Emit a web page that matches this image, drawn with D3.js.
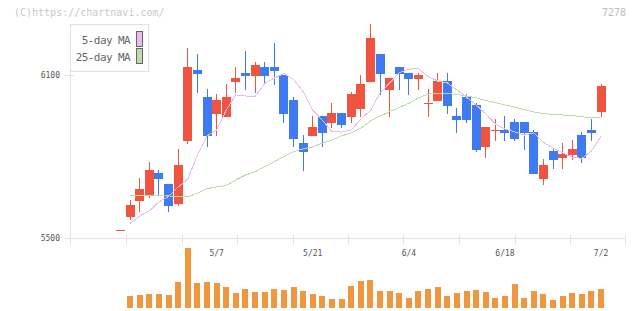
<!DOCTYPE html>
<html>
<head>
<meta charset="utf-8">
<script src="https://cdn.jsdelivr.net/npm/d3@7"></script>
<style>
  html, body { margin: 0; padding: 0; background: #fff; }
  svg { display: block; }
  text { font-family: "DejaVu Sans Mono", "Liberation Mono", monospace; }
</style>
</head>
<body>
<div id="chart"></div>
<script>
"use strict";

// trading days shown (4/18 - 7/2)
var dates = ["4/18","4/19","4/22","4/23","4/24","4/25","4/26","4/30","5/1","5/2",
  "5/7","5/8","5/9","5/10","5/13","5/14","5/15","5/16","5/17","5/20",
  "5/21","5/22","5/23","5/24","5/27","5/28","5/29","5/30","5/31","6/3",
  "6/4","6/5","6/6","6/7","6/10","6/11","6/12","6/13","6/14","6/17",
  "6/18","6/19","6/20","6/21","6/24","6/25","6/26","6/27","6/28","7/1","7/2"];

var open = [5530,5580,5638,5656,5740,5700,5627,5859,6120,6020,
  5959,5948,6076,6108,6099,6131,6131,6101,6009,5851,
  5877,5950,5924,5961,5947,5976,6076,6178,6046,6131,
  6108,6086,5997,6005,6079,5950,6020,5991,5837,5898,
  5900,5928,5928,5891,5719,5821,5797,5808,5880,5900,5966];
var high = [5530,5641,5722,5781,5751,5700,5829,6200,6178,6050,
  6031,6068,6131,6189,6149,6149,6219,6101,6019,5880,
  5950,5950,5998,5961,6039,6101,6289,6178,6090,6131,
  6108,6108,6050,6108,6108,5980,6031,5998,5910,5939,
  5950,5939,5928,5898,5792,5830,5851,5862,5891,5939,6068];
var low = [5530,5567,5598,5649,5656,5598,5620,5848,6036,5837,
  5878,5948,6036,6047,6036,6064,6065,5926,5837,5749,
  5877,5837,5906,5906,5924,5947,6076,6027,5947,6046,
  6027,6046,5947,6005,5959,5889,5926,5819,5797,5859,
  5859,5859,5826,5738,5697,5756,5756,5789,5778,5859,5947];
var close = [5530,5623,5681,5751,5719,5620,5770,6131,6106,5878,
  6009,6020,6090,6099,6138,6099,6117,5958,5866,5818,
  5910,5888,5961,5917,6031,6068,6237,6106,6090,6106,
  6086,6101,5997,6079,5988,5935,5935,5826,5910,5898,
  5889,5867,5889,5738,5770,5789,5810,5829,5797,5889,6061];
var volume = [0,23400,25400,27400,27400,25400,51400,119400,49400,51400,
  49400,41400,29400,37400,31400,31400,37400,35400,41400,33400,
  27400,23400,17400,17400,43400,53400,55400,33400,33400,29400,
  19400,33400,37400,41400,23400,29400,33400,35400,31400,19400,
  23400,47400,19400,33400,27400,15400,23400,29400,27400,33400,37400];

var ma5 = [null,5555,5582,5601,5634,5654,5689,5718,5807,5877,
  5899,5972,6028,6024,6022,6070,6090,6107,6085,6040,
  5972,5935,5893,5891,5899,5939,5970,6035,6072,6110,
  6123,6124,6096,6079,6072,6046,6020,5991,5958,5921,
  5902,5892,5880,5888,5853,5832,5814,5799,5794,5821,5876];
var ma25 = [null,5658,5658,5658,5658,5656,5654,5653,5666,5683,
  5689,5694,5715,5733,5745,5764,5782,5801,5819,5829,
  5837,5850,5862,5877,5888,5905,5932,5950,5966,5982,
  5997,6017,6031,6034,6034,6029,6024,6017,6007,6000,
  5991,5983,5974,5965,5959,5956,5954,5952,5947,5945,5945];

var priceTicks = [5500, 6100];
var dateLabels = ["5/7", "5/21", "6/4", "6/18", "7/2"];
var gridTicks = [0.6, 6.35, 12.1, 17.9, 23.7, 29.4, 35.2, 41, 46.8, 52.5];

var legendItems = [
  {name: "5-day MA", color: "#ebbbef"},
  {name: "25-day MA", color: "#bcdcae"}
];

var width = 640, height = 311;
var upColor = "#f05340", downColor = "#3f7bf0", volColor = "#f0963f";
var axisColor = "#e2e2e2";

var svg = d3.select("#chart").append("svg")
    .attr("width", width)
    .attr("height", height);

var x = d3.scaleBand()
    .domain(d3.range(dates.length))
    .range([116, 605.6])
    .paddingInner(0.06);
var bw = x.bandwidth();
function cx(i) { return x(i) + bw / 2; }

// linear index scale for grid ticks
var xi = d3.scaleLinear()
    .domain([0, dates.length - 1])
    .range([cx(0), cx(dates.length - 1)]);

var y = d3.scaleLinear().domain([5500, 6289]).range([238.3, 24]);
var yv = d3.scaleLinear().domain([0, d3.max(volume)]).range([307.7, 248]);

// header
svg.append("text")
    .attr("x", 14).attr("y", 16)
    .attr("font-size", 10)
    .attr("fill", "#c8c8c8")
    .text("(C)https://chartnavi.com/");
svg.append("text")
    .attr("x", 626).attr("y", 16)
    .attr("text-anchor", "end")
    .attr("font-size", 10)
    .attr("fill", "#bdbdbd")
    .text("7278");

// axes
var axes = svg.append("g").attr("stroke", axisColor).attr("shape-rendering", "crispEdges");
axes.append("line").attr("x1", 70.5).attr("x2", 70.5).attr("y1", 24).attr("y2", 243.5);
axes.append("line").attr("x1", 70).attr("x2", 626).attr("y1", 238.5).attr("y2", 238.5);
axes.selectAll(".yt").data(priceTicks).enter().append("line")
    .attr("x1", 65).attr("x2", 74)
    .attr("y1", function(d) { return Math.round(y(d)) + 0.5; })
    .attr("y2", function(d) { return Math.round(y(d)) + 0.5; });
axes.selectAll(".xt").data(gridTicks).enter().append("line")
    .attr("x1", function(d) { return Math.round(xi(d)) + 0.5; })
    .attr("x2", function(d) { return Math.round(xi(d)) + 0.5; })
    .attr("y1", 234.5).attr("y2", 243.5);

svg.selectAll(".ylab").data(priceTicks).enter().append("text")
    .attr("x", 60)
    .attr("y", function(d) { return y(d) + 3; })
    .attr("text-anchor", "end")
    .attr("font-size", 8)
    .attr("fill", "#555")
    .text(function(d) { return d; });

svg.selectAll(".xlab").data(dateLabels).enter().append("text")
    .attr("x", function(d) { return cx(dates.indexOf(d)); })
    .attr("y", 255.5)
    .attr("text-anchor", "middle")
    .attr("font-size", 8)
    .attr("fill", "#555")
    .text(function(d) { return d; });

// volume
svg.append("g").attr("shape-rendering", "crispEdges")
  .selectAll("rect").data(volume).enter().append("rect")
    .attr("x", function(d, i) { return Math.round(cx(i) - 3); })
    .attr("width", 6)
    .attr("y", function(d) { return yv(d); })
    .attr("height", function(d) { return yv(0) - yv(d); })
    .attr("fill", volColor);

// candles
var candles = svg.append("g").attr("shape-rendering", "crispEdges")
  .selectAll("g").data(dates).enter().append("g")
    .attr("fill", function(d, i) { return close[i] >= open[i] ? upColor : downColor; });

candles.append("rect")
    .attr("x", function(d, i) { return Math.floor(cx(i)); })
    .attr("width", 1)
    .attr("y", function(d, i) { return y(high[i]); })
    .attr("height", function(d, i) { return Math.max(1, y(low[i]) - y(high[i])); });

candles.append("rect")
    .attr("x", function(d, i) { return x(i); })
    .attr("width", bw)
    .attr("y", function(d, i) { return y(Math.max(open[i], close[i])); })
    .attr("height", function(d, i) { return Math.max(1, Math.abs(y(open[i]) - y(close[i]))); });

// moving averages
var line = d3.line()
    .defined(function(d) { return d != null; })
    .x(function(d, i) { return cx(i); })
    .y(function(d) { return y(d); });

svg.append("path").datum(ma25)
    .attr("d", line)
    .attr("fill", "none")
    .attr("stroke", legendItems[1].color)
    .attr("stroke-width", 1)
    .attr("shape-rendering", "crispEdges");
svg.append("path").datum(ma5)
    .attr("d", line)
    .attr("fill", "none")
    .attr("stroke", legendItems[0].color)
    .attr("stroke-width", 1)
    .attr("shape-rendering", "crispEdges");

// legend
var legend = svg.append("g").attr("shape-rendering", "crispEdges");
legend.append("rect")
    .attr("x", 70.5).attr("y", 24.5)
    .attr("width", 78).attr("height", 47)
    .attr("fill", "#fff")
    .attr("stroke", "#e0e0e0");
var li = legend.selectAll("g").data(legendItems).enter().append("g")
    .attr("transform", function(d, i) { return "translate(0," + (i * 17) + ")"; });
li.append("text")
    .attr("x", 130).attr("y", 44)
    .attr("text-anchor", "end")
    .attr("font-size", 11)
    .attr("letter-spacing", -0.6)
    .attr("fill", "#666")
    .text(function(d) { return d.name; });
li.append("rect")
    .attr("x", 136.5).attr("y", 31.5)
    .attr("width", 6).attr("height", 15)
    .attr("fill", function(d) { return d.color; })
    .attr("stroke", "#666");
</script>
</body>
</html>
